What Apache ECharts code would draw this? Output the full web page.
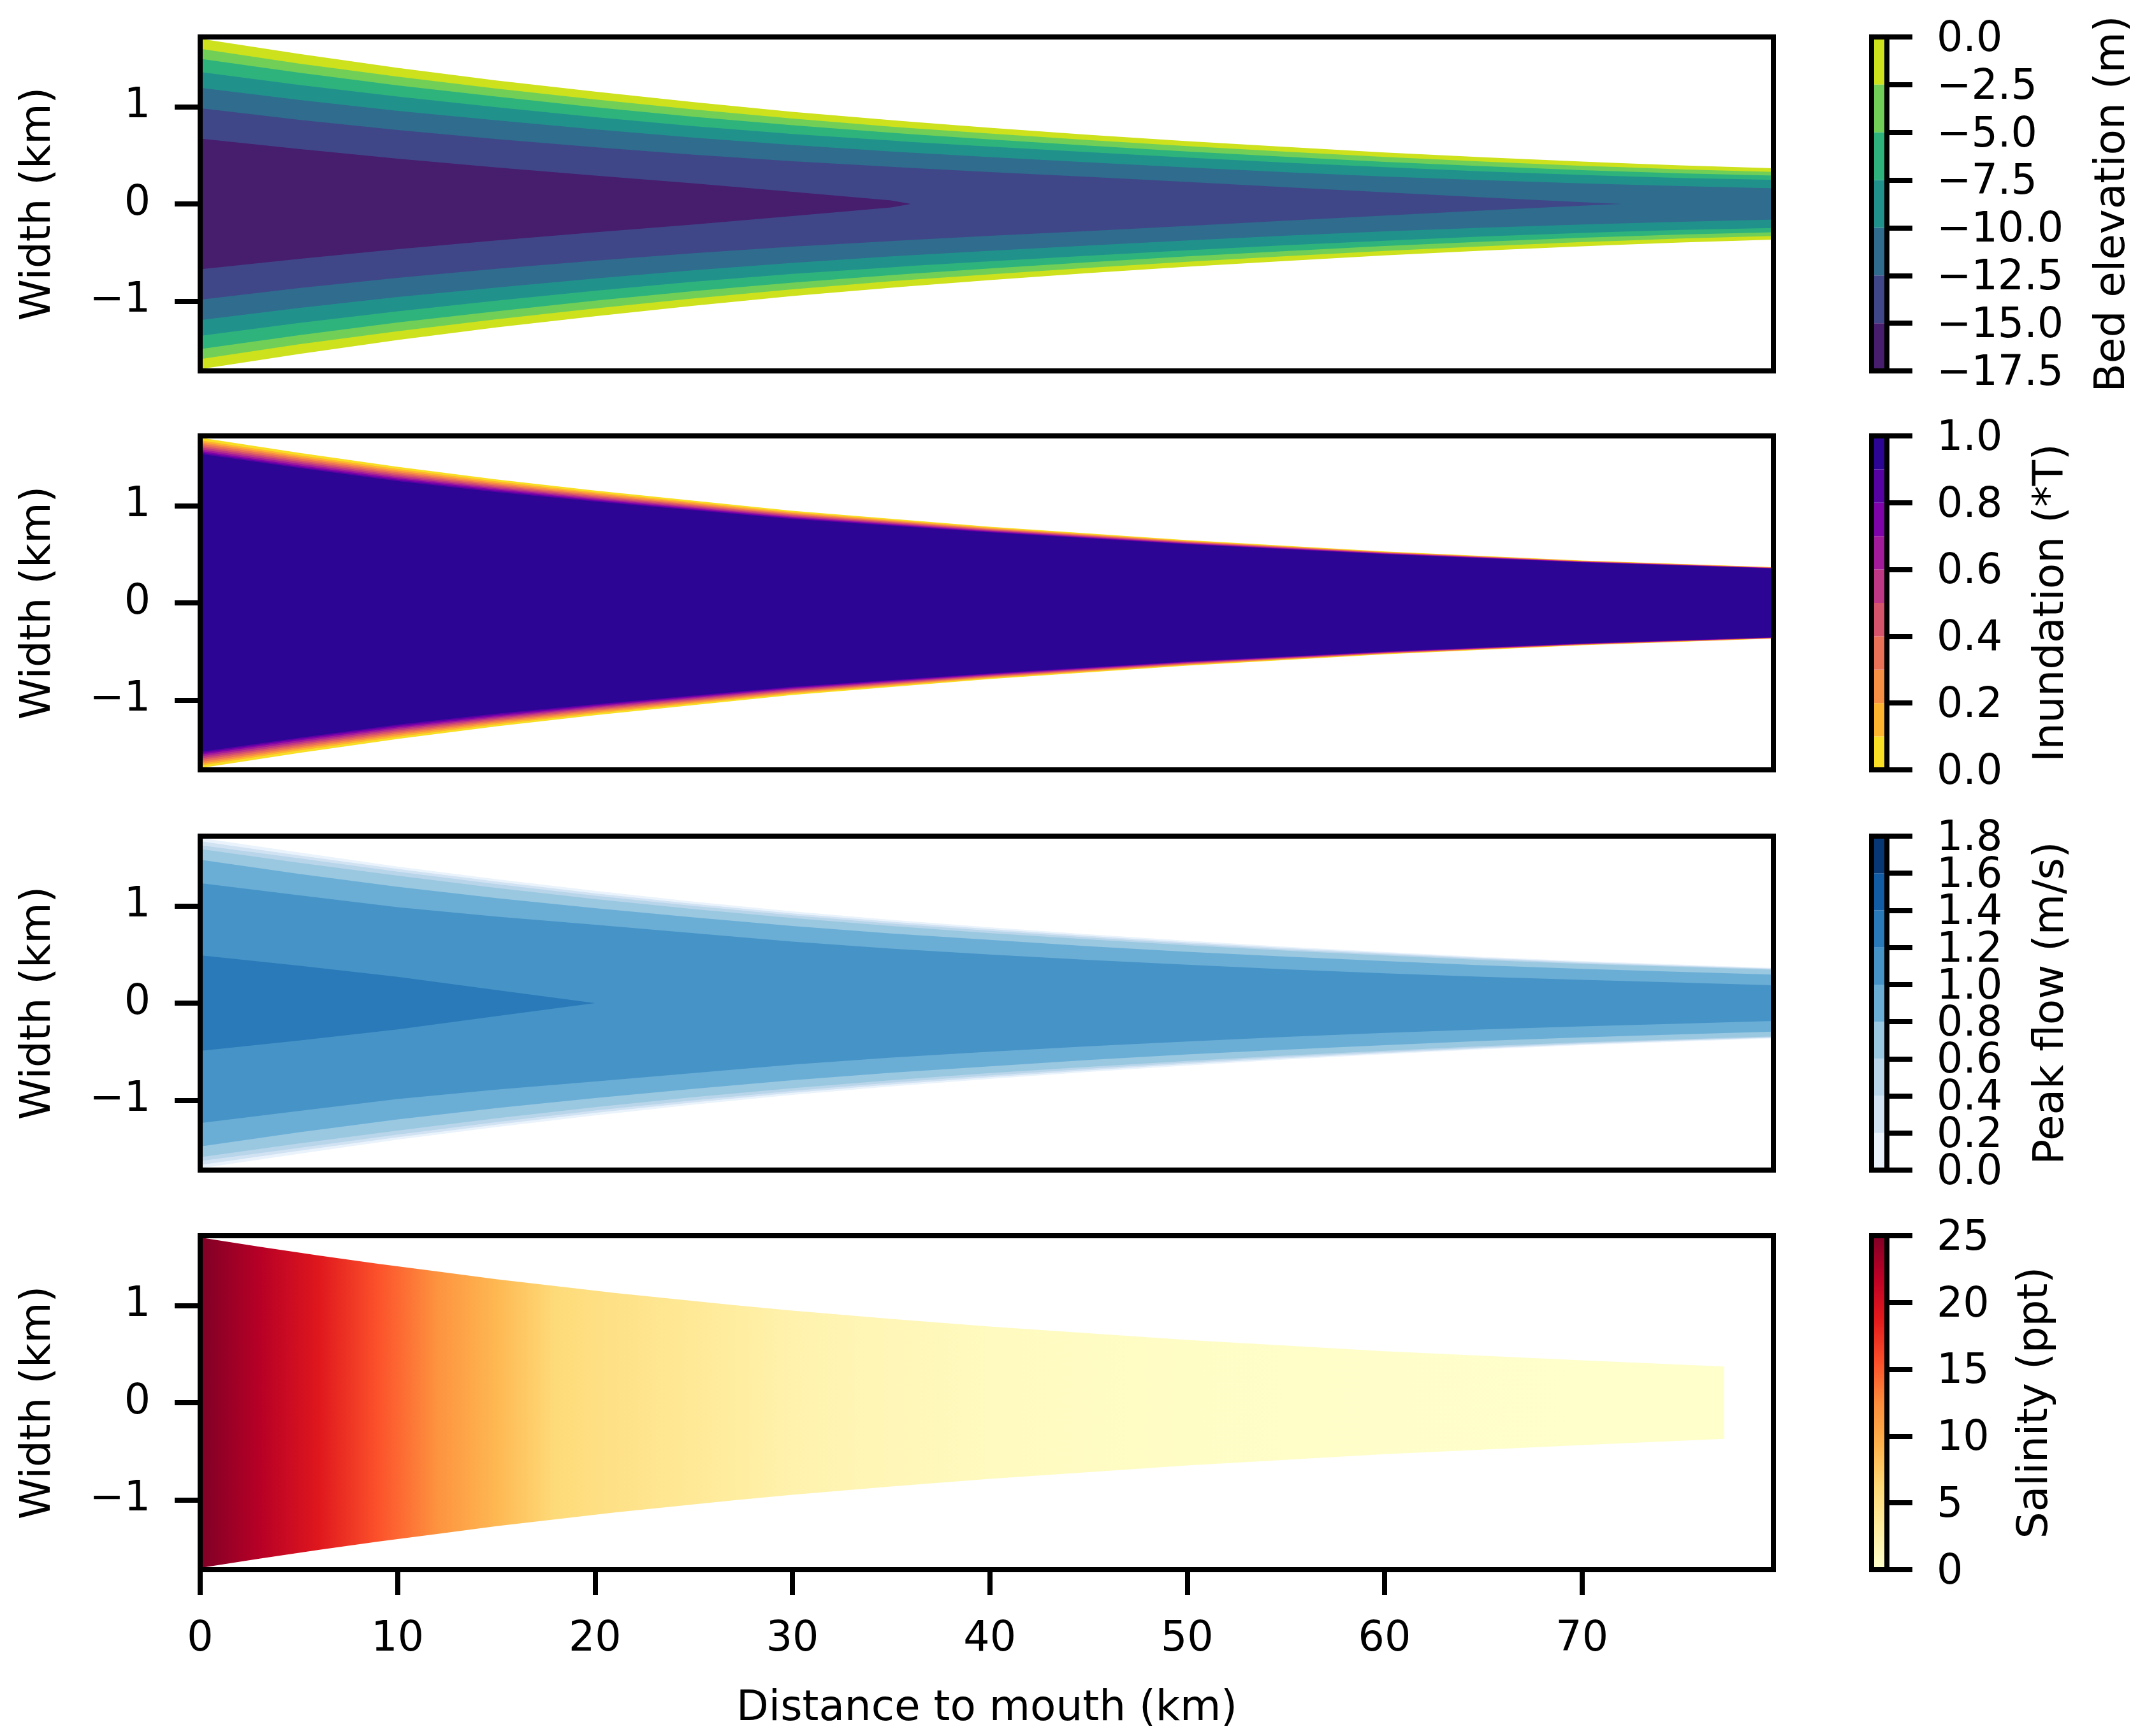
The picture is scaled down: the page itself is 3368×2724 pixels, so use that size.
<!DOCTYPE html>
<html>
<head>
<meta charset="utf-8">
<title>Estuary</title>
<style>
  html, body { margin: 0; padding: 0; background: #fff; }
  #chart { width: 3368px; height: 2724px; }
</style>
<script src="https://cdn.jsdelivr.net/npm/echarts@6/dist/echarts.min.js"></script>
</head>
<body>
<div id="chart"></div>
<script>
// half width of each contour edge (km), outermost first
const bedDist = [0, 5, 10, 15, 20, 25, 30, 35, 36, 40, 45, 50, 55, 60, 65, 70, 72, 75, 79.7]
const bedEdges = [
  [1.70, 1.545, 1.40, 1.27, 1.155, 1.048, 0.948, 0.862, 0.846, 0.784, 0.712, 0.646, 0.587, 0.53, 0.48, 0.436, 0.42, 0.396, 0.368],
  [1.597, 1.445, 1.31, 1.187, 1.075, 0.972, 0.878, 0.795, 0.78, 0.725, 0.658, 0.595, 0.537, 0.484, 0.436, 0.392, 0.378, 0.355, 0.329],
  [1.494, 1.35, 1.22, 1.105, 0.995, 0.897, 0.81, 0.733, 0.718, 0.664, 0.60, 0.54, 0.485, 0.433, 0.388, 0.348, 0.334, 0.314, 0.292],
  [1.358, 1.225, 1.105, 0.995, 0.893, 0.80, 0.72, 0.652, 0.638, 0.59, 0.532, 0.477, 0.425, 0.378, 0.335, 0.298, 0.285, 0.267, 0.248],
  [1.195, 1.07, 0.958, 0.86, 0.768, 0.682, 0.606, 0.54, 0.528, 0.482, 0.428, 0.375, 0.326, 0.282, 0.244, 0.212, 0.2, 0.183, 0.161],
  [0.985, 0.865, 0.76, 0.667, 0.583, 0.506, 0.44, 0.382, 0.371, 0.328, 0.278, 0.226, 0.172, 0.12, 0.068, 0.018, 0],
  [0.672, 0.565, 0.465, 0.375, 0.292, 0.212, 0.125, 0.036, 0]
]
const bedColors = ['#cde11d', '#71cf57', '#2eb37c', '#21918c', '#2f6c8e', '#3f4788', '#471d6e']
const bedLevels = [0, -2.5, -5, -7.5, -10, -12.5, -15, -17.5]

const inundDist = [0, 5, 10, 15, 20, 30, 40, 50, 60, 70, 79.7]
const inundEdges = [
  [1.70, 1.545, 1.40, 1.27, 1.155, 0.948, 0.784, 0.646, 0.53, 0.436, 0.368],
  [1.674, 1.52, 1.378, 1.25, 1.137, 0.935, 0.775, 0.639, 0.525, 0.433, 0.366],
  [1.655, 1.502, 1.361, 1.235, 1.124, 0.925, 0.768, 0.634, 0.522, 0.431, 0.364],
  [1.637, 1.485, 1.345, 1.22, 1.11, 0.915, 0.761, 0.629, 0.519, 0.429, 0.362],
  [1.618, 1.467, 1.328, 1.206, 1.098, 0.906, 0.755, 0.624, 0.516, 0.427, 0.361],
  [1.60, 1.45, 1.312, 1.192, 1.086, 0.897, 0.748, 0.619, 0.513, 0.425, 0.359],
  [1.581, 1.432, 1.295, 1.178, 1.074, 0.887, 0.742, 0.615, 0.51, 0.423, 0.358],
  [1.563, 1.415, 1.28, 1.165, 1.062, 0.879, 0.736, 0.61, 0.507, 0.421, 0.356],
  [1.548, 1.40, 1.265, 1.152, 1.052, 0.871, 0.73, 0.606, 0.503, 0.418, 0.355],
  [1.533, 1.388, 1.253, 1.14, 1.042, 0.863, 0.724, 0.601, 0.50, 0.416, 0.353]
]
const inundColors = ['#f8df25', '#fdb42f', '#f79044', '#e97158', '#d7546d', '#be3885', '#a11b9b', '#7e03a8', '#5602a3', '#2c0594']
const inundLevels = [0, 0.1, 0.2, 0.3, 0.4, 0.5, 0.6, 0.7, 0.8, 0.9, 1]

const flowDist = [0, 5, 10, 15, 20, 25, 30, 35, 40, 45, 50, 55, 60, 65, 70, 75, 79.7]
const flowEdges = [
  [1.70, 1.55, 1.405, 1.275, 1.155, 1.045, 0.945, 0.858, 0.78, 0.708, 0.642, 0.58, 0.527, 0.476, 0.433, 0.396, 0.363],
  [1.665, 1.52, 1.38, 1.25, 1.13, 1.022, 0.923, 0.838, 0.762, 0.692, 0.627, 0.567, 0.515, 0.465, 0.423, 0.387, 0.356],
  [1.625, 1.49, 1.353, 1.225, 1.105, 1.0, 0.903, 0.818, 0.745, 0.676, 0.612, 0.553, 0.503, 0.455, 0.413, 0.38, 0.35],
  [1.585, 1.445, 1.311, 1.185, 1.07, 0.968, 0.875, 0.793, 0.72, 0.655, 0.595, 0.54, 0.49, 0.443, 0.403, 0.372, 0.343],
  [1.475, 1.33, 1.197, 1.08, 0.977, 0.882, 0.793, 0.717, 0.65, 0.586, 0.528, 0.478, 0.432, 0.388, 0.352, 0.322, 0.293],
  [1.234, 1.11, 0.987, 0.89, 0.806, 0.72, 0.633, 0.56, 0.50, 0.445, 0.395, 0.348, 0.307, 0.27, 0.24, 0.212, 0.184],
  [0.492, 0.385, 0.27, 0.135, 0]
]
const flowColors = ['#eaf3fb', '#d1e2f3', '#b8d5ea', '#9ac8e0', '#6aaed6', '#4693c7', '#2a7ab9', '#115ca5', '#083776']
const flowLevels = [0, 0.2, 0.4, 0.6, 0.8, 1, 1.2, 1.4, 1.6, 1.8]

const saltDist = [0, 3, 6, 9, 12, 15, 18, 21, 24, 27, 30, 35, 40, 50, 60, 70, 77.2]
const saltEdge = [1.70, 1.605, 1.515, 1.43, 1.35, 1.27, 1.20, 1.13, 1.068, 1.005, 0.948, 0.862, 0.784, 0.646, 0.53, 0.436, 0.372]
const saltValues = [25, 22.2, 19.1, 15.5, 12.0, 8.9, 6.0, 5.0, 4.1, 3.2, 2.2, 1.5, 0.9, 0.4, 0.15, 0.05, 0.02]
const saltColors = ['#ffffcc', '#ffeda0', '#fed976', '#feb24c', '#fd8d3c', '#fc4e2a', '#e31a1c', '#bd0026', '#800026']
const saltLevels = [0, 25]

const distTicks = [0, 10, 20, 30, 40, 50, 60, 70]
const widthTicks = [-1, 0, 1]
const bedTicks = [0, -2.5, -5, -7.5, -10, -12.5, -15, -17.5]
const inundTicks = [0, 0.2, 0.4, 0.6, 0.8, 1]
const flowTicks = [0, 0.2, 0.4, 0.6, 0.8, 1, 1.2, 1.4, 1.6, 1.8]
const flowLabelsEven = [0, 0.4, 0.8, 1.2, 1.6]
const flowLabelsOdd = [0.2, 0.6, 1, 1.4, 1.8]
const saltTicks = [0, 5, 10, 15, 20, 25]

const FONT = 'DejaVu Sans'
const LINE = 8
const TICK = 40
const panelTops = [58, 684, 1312, 1939]
const panelHeight = 524
const distMax = 79.7
const widthMax = 1.718

const grids = []
const xAxes = []
const yAxes = []
const series = []

const minus = (s) => String(s).replace('-', '\u2212')
const frameLine = { lineStyle: { color: '#000', width: LINE, cap: 'square' } }

// a grid boxed in by four axes, the first x and y axis carry ticks and labels
function addBox(rect, xOpt, yOpt) {
  const g = grids.length
  grids.push(rect)
  const xi = xAxes.length
  const yi = yAxes.length
  const plain = { show: false }
  ;['bottom', 'top'].forEach((pos, i) => {
    xAxes.push(Object.assign({
      gridIndex: g, type: 'value', position: pos, z: 10, scale: true,
      axisLine: Object.assign({ show: true, onZero: false }, frameLine),
      axisTick: plain, axisLabel: plain, splitLine: plain
    }, i === 0 ? xOpt : { min: xOpt.min, max: xOpt.max }))
  })
  ;['left', 'right'].forEach((pos, i) => {
    const isMain = (yOpt.position || 'left') === pos
    yAxes.push(Object.assign({
      gridIndex: g, type: 'value', position: pos, z: 10, scale: true,
      axisLine: Object.assign({ show: true, onZero: false }, frameLine),
      axisTick: plain, axisLabel: plain, splitLine: plain
    }, isMain ? yOpt : { min: yOpt.min, max: yOpt.max }))
  })
  return { xi, yi }
}

function ticksOf(values, digits) {
  return {
    axisTick: { show: true, length: TICK, customValues: values, lineStyle: { color: '#000', width: LINE } },
    axisLabel: {
      show: true, margin: 78, customValues: values, color: '#000', fontFamily: FONT, fontSize: 65,
      hideOverlap: false, showMinLabel: true, showMaxLabel: true,
      formatter: (v) => minus(Number(v).toFixed(digits))
    }
  }
}

// colorbar labels are rich text, the padding nudges them down onto their ticks
function barTicksOf(values, labels, digits) {
  const t = ticksOf(values, digits)
  Object.assign(t.axisLabel, {
    customValues: labels,
    padding: [10, 0, 0, 0],
    rich: { a: { color: '#000', fontFamily: FONT, fontSize: 65, lineHeight: 40 } },
    formatter: (v) => '{a|' + minus(Number(v).toFixed(digits)) + '}'
  })
  return t
}

function nameOf(text, gap, rotate, loc) {
  return {
    name: text, nameLocation: loc || 'middle', nameGap: gap, nameRotate: rotate, nameMoveOverlap: false,
    nameTextStyle: { color: '#000', fontFamily: FONT, fontSize: 66 }
  }
}

function addArea(axes, dist, edge, fill) {
  ;[1, -1].forEach((sign) => {
    series.push({
      type: 'line', xAxisIndex: axes.xi, yAxisIndex: axes.yi, silent: true, symbol: 'none',
      lineStyle: { width: 0 }, areaStyle: { color: fill, opacity: 1 },
      data: edge.map((h, i) => [dist[i], sign * h])
    })
  })
}

function addPanel(i) {
  const isLast = i === panelTops.length - 1
  const xOpt = { min: 0, max: distMax }
  if (isLast) {
    Object.assign(xOpt, ticksOf(distTicks, 0), nameOf('Distance to mouth (km)', 186, 0))
  }
  const yOpt = Object.assign({ min: -widthMax, max: widthMax, position: 'left' },
    ticksOf(widthTicks, 0), nameOf('Width (km)', 220, 90))
  return addBox({ left: 314, top: panelTops[i], width: 2468, height: panelHeight }, xOpt, yOpt)
}

const barRect = (i) => ({ left: 2936, top: panelTops[i], width: 24, height: panelHeight })

function addColorbar(i, levels, colors, ticks, labels, digits, title, gap) {
  const yMin = Math.min(...levels)
  const yMax = Math.max(...levels)
  const yOpt = Object.assign({ min: yMin, max: yMax, position: 'right' }, barTicksOf(ticks, labels, digits), nameOf(title, gap, 90))
  const axes = addBox(barRect(i), { min: 0, max: 1 }, yOpt)
  series.push({
    type: 'custom', xAxisIndex: axes.xi, yAxisIndex: axes.yi, silent: true,
    encode: { y: [0, 1] },
    data: colors.map((c, k) => [levels[k], levels[k + 1]]),
    renderItem(params, api) {
      const a = api.coord([0, api.value(0)])
      const b = api.coord([1, api.value(1)])
      return {
        type: 'rect',
        shape: {
          x: Math.min(a[0], b[0]), y: Math.min(a[1], b[1]),
          width: Math.abs(b[0] - a[0]), height: Math.abs(b[1] - a[1])
        },
        style: { fill: colors[params.dataIndex] }
      }
    }
  })
}

// second label-only axis over a colorbar whose neighbouring labels sit too close for one axis
function addBarLabels(i, levels, labels, digits) {
  const g = grids.length
  grids.push(barRect(i))
  xAxes.push({ gridIndex: g, type: 'value', min: 0, max: 1, show: false })
  const t = barTicksOf([], labels, digits)
  yAxes.push({
    gridIndex: g, type: 'value', position: 'right', z: 10, scale: true,
    min: Math.min(...levels), max: Math.max(...levels),
    axisLine: { show: false }, axisTick: { show: false }, splitLine: { show: false },
    axisLabel: t.axisLabel
  })
}

const saltColor = (s) => echarts.color.lerp(s / 25, saltColors)
const saltAlong = new echarts.graphic.LinearGradient(0, 0, 1, 0,
  saltDist.map((x, i) => ({ offset: x / saltDist[saltDist.length - 1], color: saltColor(saltValues[i]) })))
const saltScale = new echarts.graphic.LinearGradient(0, 1, 0, 0,
  saltColors.map((c, i) => ({ offset: i / (saltColors.length - 1), color: c })))

let axes = addPanel(0)
bedEdges.forEach((edge, k) => addArea(axes, bedDist, edge, bedColors[k]))
addColorbar(0, bedLevels, bedColors, bedTicks, bedTicks, 1, 'Bed elevation (m)', 322)

axes = addPanel(1)
inundEdges.forEach((edge, k) => addArea(axes, inundDist, edge, inundColors[k]))
addColorbar(1, inundLevels, inundColors, inundTicks, inundTicks, 1, 'Inundation (*T)', 226)

axes = addPanel(2)
flowEdges.forEach((edge, k) => addArea(axes, flowDist, edge, flowColors[k]))
addColorbar(2, flowLevels, flowColors, flowTicks, flowLabelsEven, 1, 'Peak flow (m/s)', 226)
addBarLabels(2, flowLevels, flowLabelsOdd, 1)

axes = addPanel(3)
addArea(axes, saltDist, saltEdge, saltAlong)
addColorbar(3, saltLevels, [saltScale], saltTicks, saltTicks, 0, 'Salinity (ppt)', 201)

const chart = echarts.init(document.getElementById('chart'), null, { renderer: 'canvas' })
chart.setOption({
  animation: false,
  backgroundColor: '#fff',
  grid: grids,
  xAxis: xAxes,
  yAxis: yAxes,
  series: series
})
</script>
</body>
</html>
